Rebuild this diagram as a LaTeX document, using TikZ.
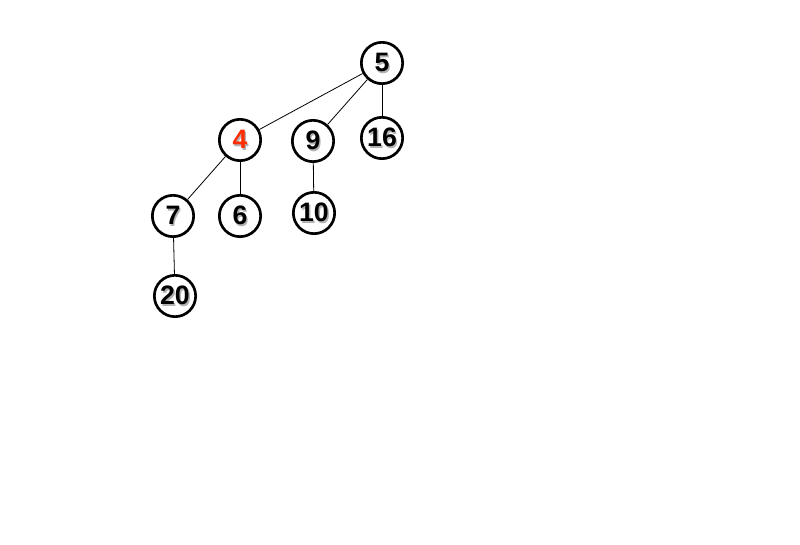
\documentclass[tikz,border=0pt]{standalone}
\usepackage{fontspec}
\usepackage{xcolor}
\setmainfont{Liberation Sans}
\definecolor{keyred}{RGB}{255,45,0}
\newcommand{\shd}[1]{\makebox[0pt][l]{\hspace{1pt}\raisebox{-1.5pt}{\color{black!30}#1}}#1}

\begin{document}
\begin{tikzpicture}[x=0.75pt,y=0.75pt,yscale=-1,xscale=1]
\tikzset{
  heapnode/.style={draw, circle, line width=2pt, fill=white, minimum size=31pt, inner sep=0pt, font=\fontsize{20}{20}\selectfont\bfseries},
  edge/.style={draw, line width=0.6pt}
}
\path (0,0) rectangle (800,545);

% Nodes
\node [heapnode] (n5) at (382,63) {\shd{5}};
\node [heapnode] (n4) at (240,140) {\textcolor{keyred}{\shd{4}}};
\node [heapnode] (n9) at (313,141) {\shd{9}};
\node [heapnode] (n16) at (382,138) {\shd{16}};
\node [heapnode] (n7) at (173,216) {\shd{7}};
\node [heapnode] (n6) at (240,216) {\shd{6}};
\node [heapnode] (n10) at (314,213) {\shd{10}};
\node [heapnode] (n20) at (175,296) {\shd{20}};

% Edges
\draw [edge] (n5) -- (n4);
\draw [edge] (n5) -- (n9);
\draw [edge] (n5) -- (n16);
\draw [edge] (n4) -- (n7);
\draw [edge] (n4) -- (n6);
\draw [edge] (n9) -- (n10);
\draw [edge] (n7) -- (n20);
\end{tikzpicture}
\end{document}
